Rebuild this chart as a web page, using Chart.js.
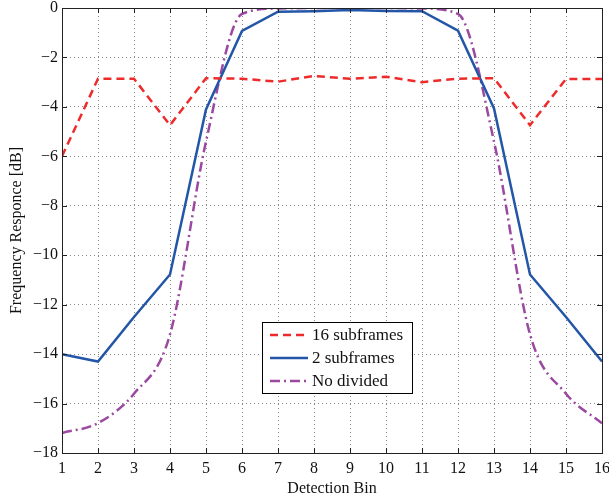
<!DOCTYPE html>
<html>
<head>
<meta charset="utf-8">
<script src="https://cdn.jsdelivr.net/npm/chart.js@4"></script>
<style>
  html, body { margin: 0; padding: 0; background: #fff; }
  #wrap { position: relative; width: 609px; height: 501px; }
</style>
</head>
<body>
<div id="wrap"><canvas id="c" width="609" height="501"></canvas></div>
<script>
const bins = [1, 2, 3, 4, 5, 6, 7, 8, 9, 10, 11, 12, 13, 14, 15, 16]
const sub16 = [-6.0, -2.86, -2.86, -4.74, -2.84, -2.86, -2.98, -2.75, -2.86, -2.78, -3.0, -2.86, -2.84, -4.74, -2.87, -2.87]
const sub2 = [-14.0, -14.3, -12.5, -10.78, -4.1, -0.93, -0.15, -0.13, -0.08, -0.12, -0.13, -0.92, -4.06, -10.78, -12.5, -14.3]
const noDiv = [-17.19, -16.79, -15.6, -13.2, -5.4, -0.24, -0.02, 0, 0, 0, -0.02, -0.24, -5.4, -13.2, -15.6, -16.8]
const yTicks = [0, -2, -4, -6, -8, -10, -12, -14, -16, -18]

const serif = "'Liberation Serif', 'DejaVu Serif', serif"

const pts = arr => arr.map((v, i) => ({ x: bins[i], y: v }))

// MATLAB style frame: black box, inward ticks, legend inside the plot
const framePlugin = {
  id: "frame",
  afterDraw(chart) {
    const { ctx, chartArea: a, scales } = chart
    ctx.save()
    ctx.strokeStyle = "#222"
    ctx.lineWidth = 1
    ctx.strokeRect(a.left + 0.5, a.top + 0.5, a.right - a.left, a.bottom - a.top)
    ctx.beginPath()
    bins.forEach(b => {
      const x = Math.round(scales.x.getPixelForValue(b)) + 0.5
      ctx.moveTo(x, a.bottom); ctx.lineTo(x, a.bottom - 5)
      ctx.moveTo(x, a.top); ctx.lineTo(x, a.top + 5)
    })
    yTicks.forEach(t => {
      const y = Math.round(scales.y.getPixelForValue(t)) + 0.5
      ctx.moveTo(a.left, y); ctx.lineTo(a.left + 5, y)
      ctx.moveTo(a.right, y); ctx.lineTo(a.right - 5, y)
    })
    ctx.stroke()

    // legend box
    const lx = 262, ly = 322, lw = 150, lh = 71
    ctx.fillStyle = "#fff"
    ctx.fillRect(lx, ly, lw, lh)
    ctx.strokeStyle = "#000"
    ctx.strokeRect(lx + 0.5, ly + 0.5, lw, lh)
    ctx.font = "17px " + serif
    ctx.textBaseline = "middle"
    chart.data.datasets.forEach((ds, i) => {
      const y = ly + 13 + i * 23
      ctx.strokeStyle = ds.borderColor
      ctx.lineWidth = ds.borderWidth
      ctx.setLineDash(ds.borderDash || [])
      ctx.beginPath(); ctx.moveTo(lx + 8, y); ctx.lineTo(lx + 46, y); ctx.stroke()
      ctx.setLineDash([])
      ctx.fillStyle = "#111"
      ctx.fillText(ds.label, lx + 50, y + 1)
    })
    ctx.restore()
  }
}

new Chart(document.getElementById("c"), {
  type: "line",
  data: {
    datasets: [
      { label: "16 subframes", data: pts(sub16), borderColor: "#ee2b2b", borderWidth: 2.5, borderDash: [8, 5] },
      { label: "2 subframes", data: pts(sub2), borderColor: "#2456a8", borderWidth: 2.5 },
      { label: "No divided", data: pts(noDiv), borderColor: "#9a48a0", borderWidth: 2.5, borderDash: [10, 4, 2, 4], cubicInterpolationMode: "monotone" }
    ]
  },
  options: {
    responsive: false,
    animation: false,
    layout: { padding: { left: 0, right: 7, top: 8, bottom: 0 } },
    elements: { point: { radius: 0 }, line: { tension: 0 } },
    plugins: { legend: { display: false }, tooltip: { enabled: false } },
    scales: {
      x: {
        type: "linear", min: 1, max: 16,
        afterBuildTicks: s => { s.ticks = bins.map(v => ({ value: v })) },
        afterFit: s => { s.height = 48; s.paddingLeft = 0; s.paddingRight = 0 },
        grid: { color: "#888", lineWidth: 1, drawTicks: false },
        border: { display: false, dash: [1, 3] },
        ticks: { color: "#111", font: { family: serif, size: 16 }, padding: 6 },
        title: { display: true, text: "Detection Bin", color: "#111", font: { family: serif, size: 16 }, padding: { top: 0, bottom: 3 } }
      },
      y: {
        min: -18, max: 0,
        afterBuildTicks: s => { s.ticks = yTicks.map(v => ({ value: v })) },
        afterFit: s => { s.width = 62; s.paddingTop = 0; s.paddingBottom = 0 },
        grid: { color: "#888", lineWidth: 1, drawTicks: false },
        border: { display: false, dash: [1, 3] },
        ticks: { color: "#111", font: { family: serif, size: 16 }, padding: 4, callback: v => v === 0 ? "0" : "\u2212" + Math.abs(v) },
        title: { display: true, text: "Frequency Responce [dB]", color: "#111", font: { family: serif, size: 16 }, padding: { top: 7, bottom: 0 } }
      }
    }
  },
  plugins: [framePlugin]
})
</script>
</body>
</html>
